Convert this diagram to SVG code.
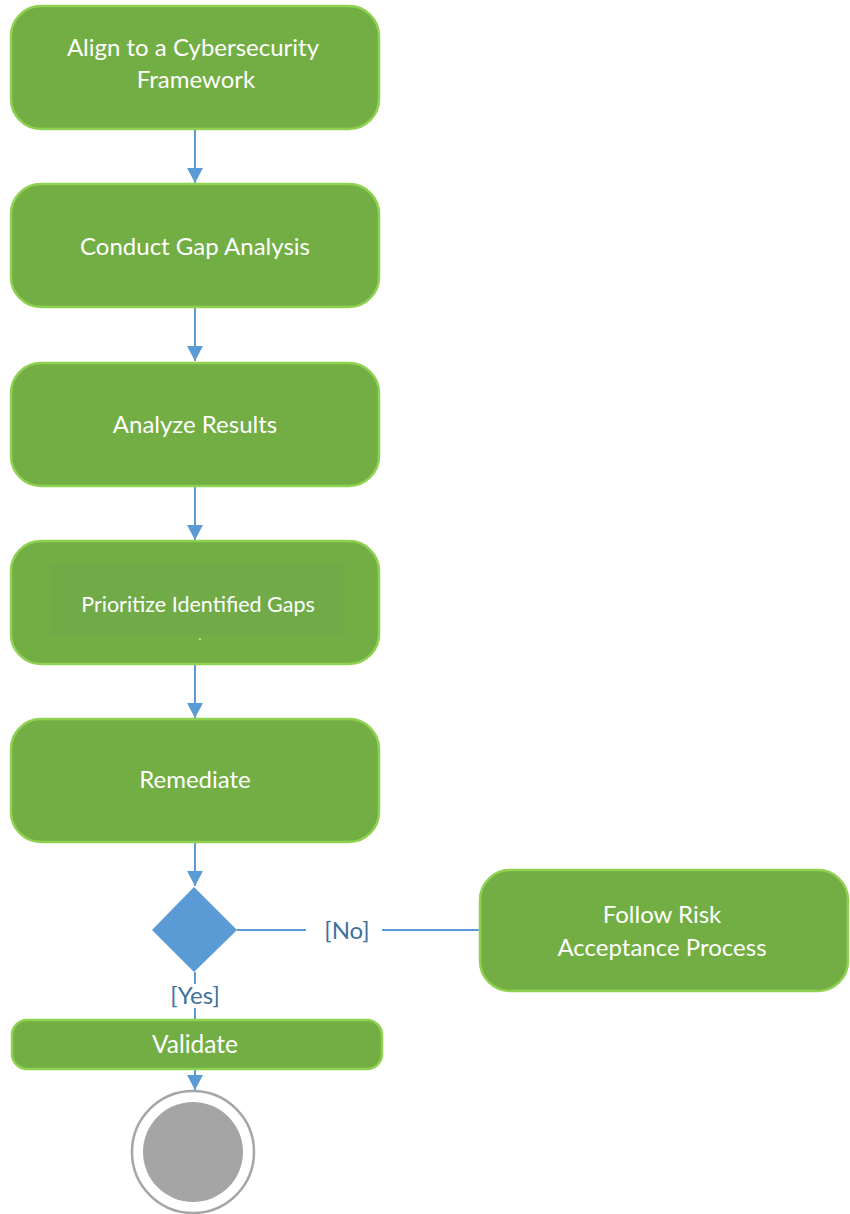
<svg xmlns="http://www.w3.org/2000/svg" width="850" height="1214" viewBox="0 0 850 1214">
  <style>
    .act { fill: #72ae43; stroke: #8fd150; stroke-width: 2.5; }
    .lbl { font-family: "Lato", "Liberation Sans", sans-serif; font-size: 24px; fill: #ffffff; text-anchor: middle; }
    .guard { font-family: "Lato", "Liberation Sans", sans-serif; font-size: 24px; fill: #41719c; text-anchor: middle; }
    .flow { stroke: #5b9bd5; stroke-width: 2; fill: none; }
  </style>
  <defs>
    <marker id="arrow" markerWidth="16" markerHeight="16" refX="15" refY="8" orient="auto" markerUnits="userSpaceOnUse">
      <path d="M0,0 L15,8 L0,16 Z" fill="#5b9bd5"/>
    </marker>
  </defs>
  <rect width="850" height="1214" fill="#ffffff"/>

  <g id="connectors">
    <line class="flow" x1="195" y1="129" x2="195" y2="183" marker-end="url(#arrow)"/>
    <line class="flow" x1="195" y1="307" x2="195" y2="361" marker-end="url(#arrow)"/>
    <line class="flow" x1="195" y1="486" x2="195" y2="540" marker-end="url(#arrow)"/>
    <line class="flow" x1="195" y1="664" x2="195" y2="718" marker-end="url(#arrow)"/>
    <line class="flow" x1="195" y1="842" x2="195" y2="886" marker-end="url(#arrow)"/>
    <line class="flow" x1="237" y1="930" x2="306" y2="930"/>
    <line class="flow" x1="382" y1="930" x2="479" y2="930"/>
    <text class="guard" x="347" y="939">[No]</text>
    <line class="flow" x1="195" y1="972" x2="195" y2="984"/>
    <line class="flow" x1="195" y1="1008" x2="195" y2="1019"/>
    <text class="guard" x="195" y="1004">[Yes]</text>
    <line class="flow" x1="195" y1="1069" x2="195" y2="1090" marker-end="url(#arrow)"/>
  </g>

  <g id="align">
    <rect class="act" x="11" y="6" width="368" height="123" rx="30"/>
    <text class="lbl" x="193" y="56">Align to a Cybersecurity</text>
    <text class="lbl" x="196" y="88">Framework</text>
  </g>

  <g id="gap-analysis">
    <rect class="act" x="11" y="184" width="368" height="123" rx="30"/>
    <text class="lbl" x="195" y="255">Conduct Gap Analysis</text>
  </g>

  <g id="analyze">
    <rect class="act" x="11" y="363" width="368" height="123" rx="30"/>
    <text class="lbl" x="195" y="433">Analyze Results</text>
  </g>

  <g id="prioritize">
    <rect class="act" x="11" y="541" width="368" height="123" rx="30"/>
    <rect x="50" y="563" width="295" height="73" fill="#70ab47"/>
    <text class="lbl" x="198" y="612" style="font-size:21.5px">Prioritize Identified Gaps</text>
    <text class="lbl" x="200" y="640" style="font-size:12px">.</text>
  </g>

  <g id="remediate">
    <rect class="act" x="11" y="719" width="368" height="123" rx="30"/>
    <text class="lbl" x="195" y="788">Remediate</text>
  </g>

  <g id="decision">
    <polygon points="194,887 237,930 194,972 152,930" fill="#5b9bd5"/>
  </g>

  <g id="risk-acceptance">
    <rect class="act" x="480" y="870" width="368" height="121" rx="30"/>
    <text class="lbl" x="662" y="923">Follow Risk</text>
    <text class="lbl" x="662" y="956">Acceptance Process</text>
  </g>

  <g id="validate">
    <rect class="act" x="12" y="1020" width="370" height="49" rx="15"/>
    <text class="lbl" x="195" y="1053" style="font-size:24.5px">Validate</text>
  </g>

  <g id="final">
    <circle cx="193" cy="1152" r="61" fill="#ffffff" stroke="#a5a5a5" stroke-width="2.5"/>
    <circle cx="193" cy="1152" r="50" fill="#a5a5a5"/>
  </g>
</svg>
